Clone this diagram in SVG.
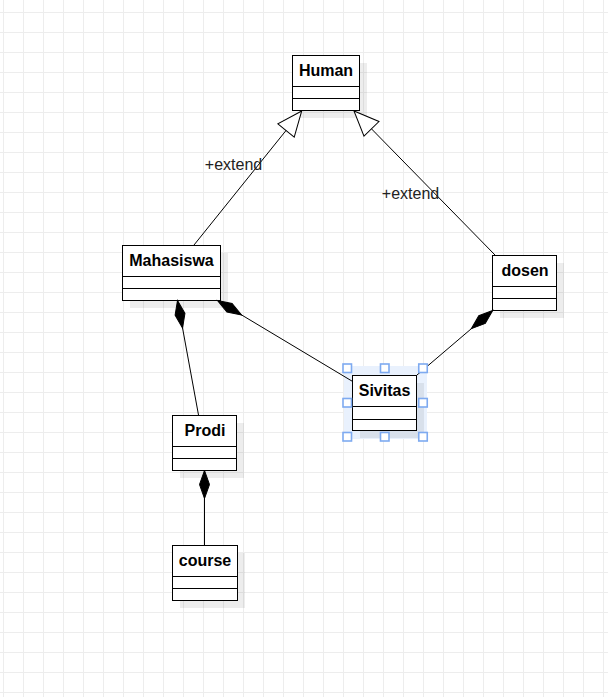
<svg xmlns="http://www.w3.org/2000/svg" width="608" height="697" viewBox="0 0 608 697">
<style>
.box{fill:#ffffff;stroke:#000000;stroke-width:1}
.sh{fill:#000000;fill-opacity:0.07}
.div{stroke:#000000;stroke-width:1}
.name{font-family:"Liberation Sans",Arial,sans-serif;font-size:16px;font-weight:bold;fill:#000000;text-anchor:middle}
.lbl{font-family:"Liberation Sans",Arial,sans-serif;font-size:16px;fill:#222222;text-anchor:middle}
.edge{fill:none;stroke:#000000;stroke-width:1}
.handle{fill:#ffffff;stroke:#7eaaf0;stroke-width:1.6}
</style>
<defs>
<pattern id="grid" patternUnits="userSpaceOnUse" x="3" y="12" width="20" height="20">
<path d="M0,0.5 H20 M0.5,0 V20" fill="none" stroke="#ededed" stroke-width="1"/>
</pattern>
<marker id="gen" markerUnits="userSpaceOnUse" markerWidth="40" markerHeight="40" refX="0" refY="0" orient="auto" overflow="visible">
<path d="M0,0 L-25,-10.5 L-25,10.5 Z" fill="#ffffff" stroke="#000000" stroke-width="1"/>
</marker>
<marker id="comp" markerUnits="userSpaceOnUse" markerWidth="40" markerHeight="40" refX="0" refY="0" orient="auto" overflow="visible">
<path d="M0,0 L14,-5 L28,0 L14,5 Z" fill="#000000" stroke="#000000" stroke-width="1"/>
</marker>
</defs>
<rect x="0" y="0" width="608" height="697" fill="#ffffff"/>
<rect x="0" y="0" width="608" height="697" fill="url(#grid)"/>

<g id="human">
<rect class="sh" x="300" y="63" width="67" height="55"/>
<rect class="box" x="292.5" y="55.5" width="67" height="55"/>
<line class="div" x1="292.5" y1="86.5" x2="359.5" y2="86.5"/>
<line class="div" x1="292.5" y1="98.5" x2="359.5" y2="98.5"/>
<text class="name" x="326" y="76">Human</text>
</g>

<g id="mahasiswa">
<rect class="sh" x="130" y="253" width="98" height="55"/>
<rect class="box" x="122.5" y="245.5" width="98" height="55"/>
<line class="div" x1="122.5" y1="276.5" x2="220.5" y2="276.5"/>
<line class="div" x1="122.5" y1="288.5" x2="220.5" y2="288.5"/>
<text class="name" x="171.5" y="266">Mahasiswa</text>
</g>

<g id="dosen">
<rect class="sh" x="500" y="263" width="64" height="55"/>
<rect class="box" x="492.5" y="255.5" width="64" height="55"/>
<line class="div" x1="492.5" y1="286.5" x2="556.5" y2="286.5"/>
<line class="div" x1="492.5" y1="298.5" x2="556.5" y2="298.5"/>
<text class="name" x="525" y="276">dosen</text>
</g>

<g id="sivitas">
<rect x="344" y="366" width="83" height="73" fill="#e9f1fd"/>
<rect class="sh" x="360" y="383" width="64" height="55"/>
<rect class="box" x="352.5" y="375.5" width="64" height="55"/>
<line class="div" x1="352.5" y1="406.5" x2="416.5" y2="406.5"/>
<line class="div" x1="352.5" y1="419.5" x2="416.5" y2="419.5"/>
<text class="name" x="384.5" y="396">Sivitas</text>
</g>

<g id="prodi">
<rect class="sh" x="180" y="423" width="64" height="55"/>
<rect class="box" x="172.5" y="415.5" width="64" height="55"/>
<line class="div" x1="172.5" y1="446.5" x2="236.5" y2="446.5"/>
<line class="div" x1="172.5" y1="458.5" x2="236.5" y2="458.5"/>
<text class="name" x="205" y="436">Prodi</text>
</g>

<g id="course">
<rect class="sh" x="180" y="553" width="65" height="55"/>
<rect class="box" x="172.5" y="545.5" width="65" height="55"/>
<line class="div" x1="172.5" y1="576.5" x2="237.5" y2="576.5"/>
<line class="div" x1="172.5" y1="588.5" x2="237.5" y2="588.5"/>
<text class="name" x="205" y="566">course</text>
</g>

<g id="connectors">
<line class="edge" x1="194" y1="245" x2="301.7" y2="111" marker-end="url(#gen)"/>
<line class="edge" x1="495" y1="255" x2="354" y2="111" marker-end="url(#gen)"/>
<line class="edge" x1="177.5" y1="300.5" x2="198.5" y2="415" marker-start="url(#comp)"/>
<line class="edge" x1="217.5" y1="300.5" x2="353" y2="381.7" marker-start="url(#comp)"/>
<line class="edge" x1="492.7" y1="310.5" x2="417" y2="375" marker-start="url(#comp)"/>
<line class="edge" x1="204.5" y1="470.5" x2="204.5" y2="545" marker-start="url(#comp)"/>
<text class="lbl" x="233.5" y="170">+extend</text>
<text class="lbl" x="410.5" y="199">+extend</text>
</g>

<g id="selection">
<rect class="handle" x="343" y="364" width="8.5" height="8.5"/>
<rect class="handle" x="380.5" y="364" width="8.5" height="8.5"/>
<rect class="handle" x="418.75" y="364" width="8.5" height="8.5"/>
<rect class="handle" x="343" y="398.5" width="8.5" height="8.5"/>
<rect class="handle" x="418.75" y="398.5" width="8.5" height="8.5"/>
<rect class="handle" x="343" y="432.5" width="8.5" height="8.5"/>
<rect class="handle" x="380.5" y="432.5" width="8.5" height="8.5"/>
<rect class="handle" x="418.75" y="432.5" width="8.5" height="8.5"/>
</g>
</svg>
